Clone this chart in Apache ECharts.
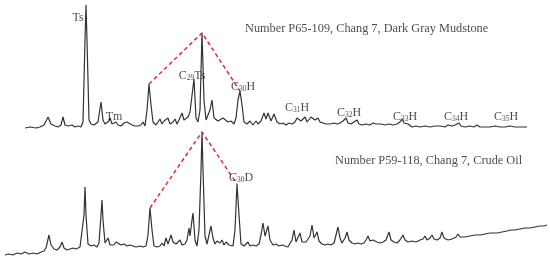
<!DOCTYPE html>
<html>
<head>
<meta charset="utf-8">
<script src="https://cdn.jsdelivr.net/npm/echarts@6/dist/echarts.min.js"></script>
<style>
html, body { margin: 0; padding: 0; background: #fff; }
#main { width: 550px; height: 262px; }
</style>
</head>
<body>
<div id="main"></div>
<script>
// 读图数据: [保留时间, 深度(自顶向下)]
var mudstone = [[25,128],[30,127],[36,128],[40,127],[44,125],[48,117],[51,124],[55,126],[58,127],[61,125],[63,117],[65,125],[68,126],[72,125],[75,127],[78,126],[81,127],[83,122],[85,40],[86,5],[87,40],[89,120],[91,124],[94,125],[96,123],[98,122],[101,102],[103,120],[105,124],[107,125],[109,121],[110,118],[112,124],[114,126],[116,122],[118,125],[121,126],[124,123],[127,122],[129,124],[132,125],[135,126],[138,126],[141,125],[143,122],[145,126],[147,110],[149,84],[151,105],[153,122],[156,125],[158,122],[160,119],[162,124],[164,121],[166,123],[168,118],[170,124],[173,122],[175,119],[177,124],[179,120],[182,113],[184,120],[186,118],[188,117],[190,112],[192,110],[194,79],[196,118],[198,122],[200,110],[202,33],[204,100],[206,120],[208,118],[210,110],[212,100],[214,118],[216,120],[218,121],[220,119],[223,118],[225,119],[228,122],[231,121],[234,124],[236,118],[238,100],[240,91],[242,105],[244,122],[247,124],[250,121],[253,125],[256,121],[258,124],[261,121],[264,113],[266,119],[268,113],[271,121],[274,114],[277,122],[280,124],[283,123],[286,125],[289,123],[292,124],[295,122],[297,118],[299,116],[301,121],[303,119],[305,117],[307,122],[309,120],[311,117],[313,115],[315,120],[318,118],[320,122],[323,123],[326,124],[330,124],[334,123],[337,124],[340,123],[343,121],[346,118],[348,123],[351,124],[354,122],[357,120],[359,124],[362,125],[366,124],[370,125],[373,123],[376,124],[378,122],[381,124],[385,125],[389,124],[393,125],[397,124],[400,122],[402,119],[404,123],[408,124],[412,127],[416,126],[420,127],[425,126],[430,127],[435,126],[440,126],[445,127],[448,125],[450,124],[452,126],[455,125],[457,124],[459,123],[461,126],[465,127],[470,126],[474,127],[477,125],[480,127],[485,127],[490,127],[495,126],[500,127],[505,127],[510,126],[515,127],[520,127],[527,127]];

var crudeOil = [[5,255],[9,254],[13,255],[17,253],[21,254],[25,252],[29,254],[33,253],[37,254],[41,252],[44,251],[46,248],[49,235],[51,245],[54,249],[57,250],[60,247],[62,242],[64,248],[67,250],[70,249],[73,248],[76,249],[80,247],[82,245],[84,215],[85,187],[86,215],[88,244],[91,246],[94,245],[97,247],[99,243],[101,215],[102,200],[103,220],[105,243],[107,245],[108,238],[110,245],[112,243],[114,245],[116,242],[118,244],[121,245],[124,244],[127,246],[130,245],[133,246],[136,247],[140,246],[143,247],[146,246],[148,235],[150,208],[152,230],[154,246],[157,247],[160,246],[162,243],[164,246],[166,238],[168,244],[171,235],[173,242],[176,244],[178,243],[180,240],[182,245],[185,244],[187,240],[189,228],[190,236],[192,220],[193,213],[195,240],[197,246],[199,230],[201,170],[202,132],[203,170],[205,236],[207,244],[209,235],[211,226],[213,238],[215,244],[217,241],[220,243],[222,240],[224,245],[226,242],[229,245],[231,243],[233,246],[235,230],[237,184],[239,215],[241,244],[244,246],[246,245],[248,242],[250,246],[253,245],[256,246],[259,244],[261,235],[263,223],[265,236],[268,226],[270,240],[273,245],[276,244],[279,246],[282,245],[285,246],[288,247],[290,248],[292,240],[294,230],[296,242],[298,240],[300,233],[302,242],[304,243],[306,242],[308,241],[310,236],[312,225],[314,238],[317,232],[319,241],[322,244],[325,245],[328,244],[331,245],[334,243],[336,235],[338,227],[340,238],[342,243],[345,238],[347,232],[349,240],[352,243],[355,244],[358,243],[361,244],[364,243],[366,240],[368,236],[370,241],[373,240],[375,238],[377,242],[380,243],[383,242],[386,240],[389,232],[391,240],[394,242],[397,243],[400,240],[403,235],[405,240],[408,242],[412,241],[416,242],[420,240],[423,239],[425,236],[427,240],[430,238],[432,235],[434,239],[437,240],[440,238],[442,232],[444,238],[448,240],[452,239],[456,237],[458,234],[460,237],[465,237],[470,236],[475,235],[480,235],[485,234],[490,233],[493,233],[495,231],[497,233],[502,232],[507,231],[511,230],[513,229],[515,230],[520,229],[525,228],[530,228],[535,227],[540,226],[544,226],[547,225]];

// 三峰连线
var triangle1 = [[149,84],[202,33],[240,91]];
var triangle2 = [[150,208],[202,132],[237,184]];

// 峰标注: [位置x, 位置y, 主体, 下标, 后缀]
var peakNames = [
	[78, 18, 'Ts', '', ''],
	[114, 117, 'Tm', '', ''],
	[192, 76, 'C', '29', 'Ts'],
	[243, 87, 'C', '30', 'H'],
	[297, 108, 'C', '31', 'H'],
	[349, 113, 'C', '32', 'H'],
	[405, 117, 'C', '33', 'H'],
	[456, 117, 'C', '34', 'H'],
	[506, 117, 'C', '35', 'H'],
	[241, 178, 'C', '30', 'D']
];
var sampleTitles = [
	[245, 29, 'Number P65-109, Chang 7, Dark Gray Mudstone'],
	[335, 161, 'Number P59-118, Chang 7, Crude Oil']
];

var serif = '"Liberation Serif", "DejaVu Serif", serif';

var labelData = peakNames.map(function(p) {
	var txt = '{a|' + p[2] + '}';
	if(p[3]) txt += '{s|' + p[3] + '}{a|' + p[4] + '}';
	return { value: [p[0], p[1]], label: { formatter: txt } };
});
var titleData = sampleTitles.map(function(t) {
	return { value: [t[0], t[1]], label: { formatter: t[2] } };
});

var chart = echarts.init(document.getElementById('main'));
chart.setOption({
	animation: false,
	grid: { left: 0, right: 0, top: 0, bottom: 0 },
	xAxis: { type: 'value', min: 0, max: 550, show: false },
	yAxis: { type: 'value', min: 0, max: 262, inverse: true, show: false },
	series: [{
			type: 'line',
			data: mudstone,
			symbol: 'none',
			lineStyle: { color: '#333', width: 1.2 }
		},
		{
			type: 'line',
			data: crudeOil,
			symbol: 'none',
			lineStyle: { color: '#333', width: 1.2 }
		},
		{
			type: 'line',
			data: triangle1,
			symbol: 'none',
			lineStyle: { color: '#e8262b', width: 1.5, type: [4, 3] },
			z: 3
		},
		{
			type: 'line',
			data: triangle2,
			symbol: 'none',
			lineStyle: { color: '#e8262b', width: 1.5, type: [4, 3] },
			z: 3
		},
		{
			type: 'scatter',
			data: labelData,
			symbolSize: 0,
			z: 4,
			label: {
				show: true,
				position: 'inside',
				rich: {
					a: { fontFamily: serif, fontSize: 12, color: '#1a1a1a', lineHeight: 13 },
					s: { fontFamily: serif, fontSize: 7.5, color: '#1a1a1a', lineHeight: 13, verticalAlign: 'bottom', padding: [6, 0, 0, 0] }
				}
			}
		},
		{
			type: 'scatter',
			data: titleData,
			symbolSize: 0,
			z: 4,
			label: {
				show: true,
				position: 'right',
				distance: 0,
				fontFamily: serif,
				fontSize: 12.3,
				color: '#1a1a1a'
			}
		}
	]
});
</script>
</body>
</html>
